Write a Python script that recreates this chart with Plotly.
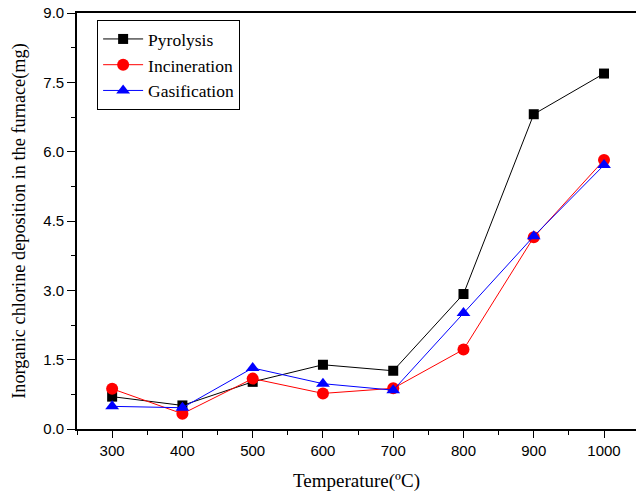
import plotly.graph_objects as go

temperature = [300, 400, 500, 600, 700, 800, 900, 1000]
pyrolysis = [0.70, 0.51, 1.02, 1.39, 1.26, 2.92, 6.81, 7.69]
incineration = [0.87, 0.33, 1.09, 0.77, 0.88, 1.72, 4.15, 5.82]
gasification = [0.49, 0.46, 1.32, 0.98, 0.84, 2.51, 4.17, 5.71]

y_ticks = [0, 1.5, 3.0, 4.5, 6.0, 7.5, 9.0]
x_ticks = [300, 400, 500, 600, 700, 800, 900, 1000]

fig = go.Figure()
fig.add_trace(go.Scatter(x=temperature, y=pyrolysis, name="Pyrolysis", mode="lines+markers",
                         line=dict(color="black", width=1),
                         marker=dict(symbol="square", size=10, color="black")))
fig.add_trace(go.Scatter(x=temperature, y=incineration, name="Incineration", mode="lines+markers",
                         line=dict(color="red", width=1),
                         marker=dict(symbol="circle", size=12, color="red")))
fig.add_trace(go.Scatter(x=temperature, y=gasification, name="Gasification", mode="lines+markers",
                         line=dict(color="blue", width=1),
                         marker=dict(symbol="triangle-up", size=12, color="blue")))

fig.update_layout(
    width=636, height=494,
    margin=dict(l=77, r=0, t=13, b=65),
    plot_bgcolor="white", paper_bgcolor="white",
    showlegend=True,
    legend=dict(x=0.036, y=0.983, xanchor="left", yanchor="top",
                bordercolor="black", borderwidth=1, bgcolor="white",
                font=dict(family="Liberation Serif", size=17.5, color="black"),
                tracegroupgap=0, itemwidth=40),
)
fig.update_xaxes(
    range=[250, 1045.5], tickvals=x_ticks, ticks="outside", ticklen=7, tickwidth=1,
    tickcolor="black", showline=True, linecolor="black", linewidth=1.6, mirror=True,
    showgrid=False, zeroline=False,
    tickfont=dict(family="Liberation Sans", size=15, color="black"),
    minor=dict(ticks="outside", ticklen=4, dtick=50, tick0=250, tickcolor="black"),
    title=dict(text="Temperature(ºC)", font=dict(family="Liberation Serif", size=19, color="black"), standoff=16),
)
fig.update_yaxes(
    range=[0, 9], tickvals=y_ticks, tickformat=".1f", ticks="outside", ticklen=8, tickwidth=1,
    tickcolor="black", showline=True, linecolor="black", linewidth=1.6, mirror=False,
    showgrid=False, zeroline=False,
    tickfont=dict(family="Liberation Sans", size=15, color="black"),
    minor=dict(ticks="outside", ticklen=4, dtick=0.75, tick0=0, tickcolor="black"),
    title=dict(text="Inorganic chlorine deposition in the furnace(mg)",
               font=dict(family="Liberation Serif", size=18.3, color="black"), standoff=13),
)
fig.write_html("out.html", config={"displayModeBar": False},
               post_script="document.body.style.margin='0';document.body.style.overflow='hidden';")
